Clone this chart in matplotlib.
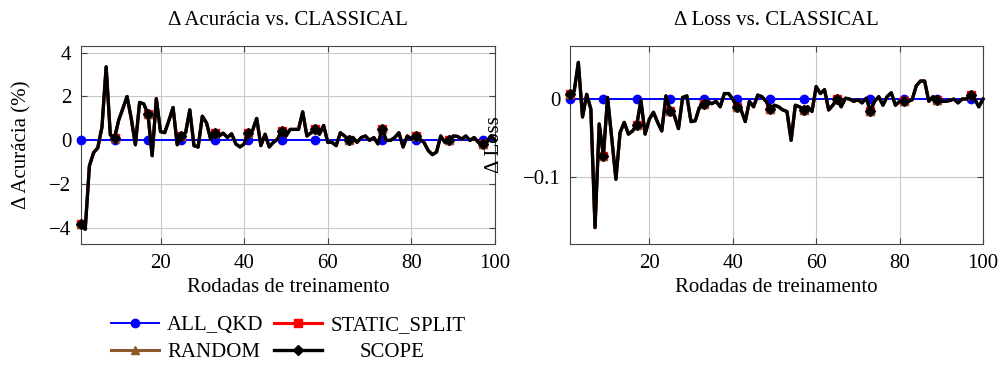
import numpy as np
import matplotlib
matplotlib.use("Agg")
import matplotlib.pyplot as plt
import matplotlib.transforms as mtransforms

plt.rcParams['font.family'] = ['Liberation Serif', 'DejaVu Serif']
plt.rcParams['mathtext.fontset'] = 'stix'

rounds = np.arange(1, 101)

# Delta accuracy (%) vs CLASSICAL
scope_acc = [-3.82, -4.05, -1.16, -0.56, -0.34, 0.6, 3.35, 0.25, 0.1, 0.92,
             1.45, 2.0, 1.0, -0.2, 1.73, 1.66, 1.2, -0.7, 1.9, 0.4,
             0.35, 0.9, 1.5, -0.2, 0.18, 0.35, 1.39, -0.24, -0.3, 1.1,
             0.8, 0.05, 0.33, 0.2, 0.33, 0.13, 0.3, -0.16, -0.3, -0.16,
             0.35, 0.45, 1.0, -0.24, 0.28, -0.3, -0.09, 0.06, 0.45, 0.2,
             0.5, 0.5, 0.5, 1.3, 0.2, 0.35, 0.5, 0.28, 0.68, -0.09,
             -0.09, -0.24, 0.35, 0.2, 0.0, 0.13, -0.09, 0.13, 0.2, 0.0,
             0.13, -0.16, 0.5, 0.0, 0.0, 0.13, 0.35, -0.3, 0.2, 0.06,
             0.2, 0.06, -0.09, -0.46, -0.65, -0.53, 0.2, -0.09, 0.0, 0.2,
             0.18, 0.06, 0.2, 0.0, 0.13, -0.09, -0.16, -0.09, 0.2, 0.0]

# Delta loss vs CLASSICAL
scope_loss = [0.0064, 0.01, 0.047, -0.023, 0.006, -0.013, -0.165, -0.032, -0.073, 0.002,
              -0.05, -0.103, -0.043, -0.030, -0.045, -0.041, -0.033, -0.002, -0.045, -0.026,
              -0.017, -0.030, -0.041, 0.004, -0.015, -0.021, -0.038, 0.002, 0.004, -0.029,
              -0.028, -0.011, -0.006, -0.003, -0.006, -0.003, -0.010, 0.007, 0.007, 0.0,
              -0.010, -0.014, -0.029, -0.003, -0.010, 0.005, 0.003, -0.003, -0.013, -0.008,
              -0.010, -0.014, -0.016, -0.053, -0.008, -0.010, -0.014, -0.010, -0.016, 0.016,
              0.007, 0.012, -0.014, -0.008, 0.0, -0.010, 0.001, 0.0, -0.003, -0.001,
              -0.005, 0.001, -0.015, -0.003, 0.003, -0.008, 0.003, 0.008, -0.008, -0.003,
              -0.003, -0.003, -0.001, 0.017, 0.023, 0.023, -0.003, 0.003, -0.001, -0.003,
              -0.003, -0.002, 0.0, -0.005, 0.0, 0.0, 0.005, 0.0, -0.010, 0.0]

# ALL_QKD is the baseline at zero; STATIC_SPLIT and RANDOM overlap SCOPE
allqkd_acc = [0.0] * 100
allqkd_loss = [0.0] * 100
static_acc = list(scope_acc)
static_loss = list(scope_loss)
random_acc = list(scope_acc)
random_loss = list(scope_loss)

FS = 15

fig = plt.figure(figsize=(10.03, 3.65), dpi=100)
ax1 = fig.add_axes([0.0808, 0.3315, 0.4128, 0.5425])
ax2 = fig.add_axes([0.5683, 0.3315, 0.4118, 0.5425])


def draw(ax, a, s, r, c):
    ax.plot(rounds, a, color='blue', lw=1.4, marker='o', ms=6, markevery=8,
            label='ALL_QKD', zorder=3, clip_on=False)
    ax.plot(rounds, s, color='red', lw=2.2, marker='s', ms=5.5, markevery=8,
            label='STATIC_SPLIT', zorder=4, clip_on=False)
    ax.plot(rounds, r, color='#8c5a2b', lw=2.2, marker='^', ms=5.5, markevery=8,
            label='RANDOM', zorder=5, clip_on=False)
    ax.plot(rounds, c, color='black', lw=2.4, marker='D', ms=5.5, markevery=8,
            label='SCOPE', zorder=6, clip_on=False)
    ax.set_xlim(1, 100)
    ax.set_xticks([20, 40, 60, 80, 100])
    ax.grid(True, color='#c8c8c8', lw=0.8)
    ax.set_axisbelow(True)
    ax.tick_params(direction='in', top=True, right=True, length=4, pad=7,
                   labelsize=FS, color='#444444')
    for sp in ax.spines.values():
        sp.set_color('#444444')
    ax.set_xlabel('Rodadas de treinamento', fontsize=FS, labelpad=4)


draw(ax1, allqkd_acc, static_acc, random_acc, scope_acc)
ax1.set_ylim(-4.72, 4.3)
ax1.set_yticks([-4, -2, 0, 2, 4])
ax1.set_title('Δ Acurácia vs. CLASSICAL', fontsize=FS, pad=15)
ax1.set_ylabel('Δ Acurácia (%)', fontsize=FS)
ax1.yaxis.set_label_coords(-0.12, 0.5)

draw(ax2, allqkd_loss, static_loss, random_loss, scope_loss)
ax2.set_ylim(-0.186, 0.068)
ax2.set_yticks([-0.1, 0])
ax2.set_yticklabels(['−0.1', '0'])
ax2.set_title('Δ Loss vs. CLASSICAL', fontsize=FS, pad=15)
ax2.set_ylabel('Δ Loss', fontsize=FS)
ax2.yaxis.set_label_coords(-0.16, 0.5)

handles, labels = ax1.get_legend_handles_labels()
order = [0, 2, 1, 3]  # row-wise like the original
leg = fig.legend([handles[i] for i in order], [labels[i] for i in order],
                 ncol=2, loc='upper left', bbox_to_anchor=(0.098, 0.17),
                 frameon=False, fontsize=FS, handlelength=2.3,
                 handletextpad=0.4, columnspacing=0.5, labelspacing=0.35,
                 borderpad=0.1)
# SCOPE label sits centred in its column in the original
for t in leg.get_texts():
    if t.get_text() == 'SCOPE':
        t.set_transform(t.get_transform() +
                        mtransforms.ScaledTranslation(0.29, 0, fig.dpi_scale_trans))

fig.savefig('out.png', dpi=100)
